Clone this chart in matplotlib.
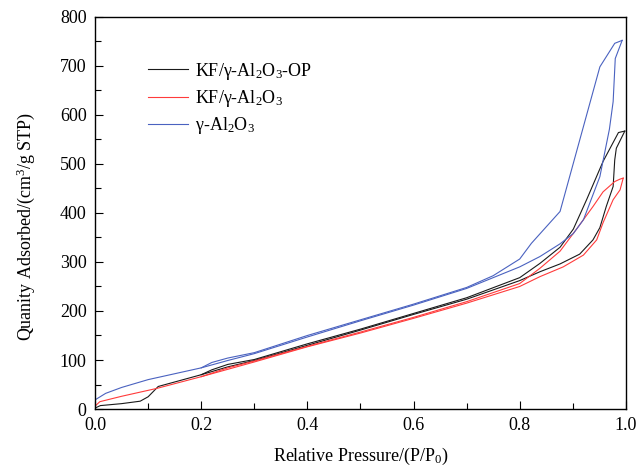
import matplotlib
matplotlib.use("Agg")
import matplotlib.pyplot as plt
from matplotlib.ticker import MultipleLocator

plt.rcParams['font.family'] = ['Liberation Serif', 'DejaVu Serif']
plt.rcParams['mathtext.fontset'] = 'custom'
plt.rcParams['mathtext.rm'] = 'Liberation Serif'
plt.rcParams['mathtext.it'] = 'Liberation Serif:italic'

# N2 isotherms: adsorption and desorption branches
op_ads_p = [0.002, 0.01, 0.05, 0.085, 0.10, 0.119, 0.20, 0.25, 0.30, 0.40, 0.50, 0.60, 0.70,
            0.80, 0.838, 0.876, 0.913, 0.938, 0.951, 0.963, 0.976, 0.979, 0.982, 0.998]
op_ads_v = [3, 7, 11, 16, 25, 46, 70, 86, 99, 130, 161, 193, 224,
            262, 280, 296, 316, 345, 370, 413, 454, 508, 532, 567]
op_des_p = [0.998, 0.986, 0.957, 0.926, 0.901, 0.876, 0.838, 0.80, 0.70, 0.60, 0.50, 0.40,
            0.30, 0.25, 0.22, 0.20]
op_des_v = [567, 564, 505, 427, 367, 330, 297, 268, 227, 195, 163, 133,
            101, 91, 80, 70]

kf_ads_p = [0.002, 0.009, 0.05, 0.116, 0.20, 0.25, 0.30, 0.40, 0.50, 0.60, 0.70, 0.80,
            0.838, 0.882, 0.92, 0.945, 0.957, 0.976, 0.989, 0.995]
kf_ads_v = [8, 15, 26, 42, 66, 81, 96, 127, 155, 185, 216, 250,
            270, 290, 314, 345, 380, 427, 447, 471]
kf_des_p = [0.995, 0.989, 0.979, 0.957, 0.938, 0.907, 0.876, 0.838, 0.80, 0.70, 0.60, 0.50,
            0.40, 0.30, 0.25, 0.20]
kf_des_v = [471, 469, 464, 443, 413, 367, 322, 287, 256, 219, 187, 157,
            128, 98, 84, 66]

al_ads_p = [0.002, 0.02, 0.05, 0.10, 0.20, 0.25, 0.30, 0.40, 0.50, 0.60, 0.70, 0.75,
            0.80, 0.838, 0.876, 0.901, 0.92, 0.951, 0.969, 0.976, 0.980, 0.993]
al_ads_v = [20, 32, 44, 60, 84, 99, 113, 147, 180, 212, 246, 268,
            290, 311, 337, 358, 386, 474, 571, 627, 715, 752]
al_des_p = [0.993, 0.979, 0.951, 0.876, 0.822, 0.80, 0.75, 0.70, 0.60, 0.50, 0.40, 0.30,
            0.25, 0.22, 0.20]
al_des_v = [752, 746, 698, 403, 338, 306, 272, 248, 214, 182, 150, 115,
            104, 95, 84]

series = [
    ('KF/γ-Al$_2$O$_3$-OP', '#1a1a1a', op_ads_p, op_ads_v, op_des_p, op_des_v),
    ('KF/γ-Al$_2$O$_3$', '#ff3b3b', kf_ads_p, kf_ads_v, kf_des_p, kf_des_v),
    ('γ-Al$_2$O$_3$', '#4a62c0', al_ads_p, al_ads_v, al_des_p, al_des_v),
]

fig = plt.figure(figsize=(6.38, 4.68), dpi=100)
ax = fig.add_axes([0.149, 0.126, 0.832, 0.838])

for name, color, ap, av, dp, dv in series:
    ax.plot(ap, av, color=color, lw=0.8, label=name)
    ax.plot(dp, dv, color=color, lw=0.8)

ax.set_xlim(0, 1.0)
ax.set_ylim(0, 800)
ax.xaxis.set_major_locator(MultipleLocator(0.2))
ax.xaxis.set_minor_locator(MultipleLocator(0.1))
ax.yaxis.set_major_locator(MultipleLocator(100))
ax.yaxis.set_minor_locator(MultipleLocator(50))
ax.xaxis.set_major_formatter(plt.FuncFormatter(lambda v, p: f'{v:.1f}'))
ax.tick_params(which='both', direction='in', top=False, right=False,
               labelsize=13, width=0.8)
ax.tick_params(which='major', length=6, pad=6)
ax.tick_params(which='minor', length=4)
for s in ax.spines.values():
    s.set_linewidth(1.0)

ax.set_xlabel('Relative Pressure/(P/P$_0$)', fontsize=13, labelpad=8)
ax.set_ylabel('Quanity Adsorbed/(cm$^3$/g STP)', fontsize=13)
ax.yaxis.set_label_coords(-0.11, 0.465)

ax.legend(loc='upper left', bbox_to_anchor=(0.07, 0.93), frameon=False,
          fontsize=13, handlelength=2.2, handletextpad=0.4, labelspacing=0.35)

fig.savefig('out.png', dpi=100)
